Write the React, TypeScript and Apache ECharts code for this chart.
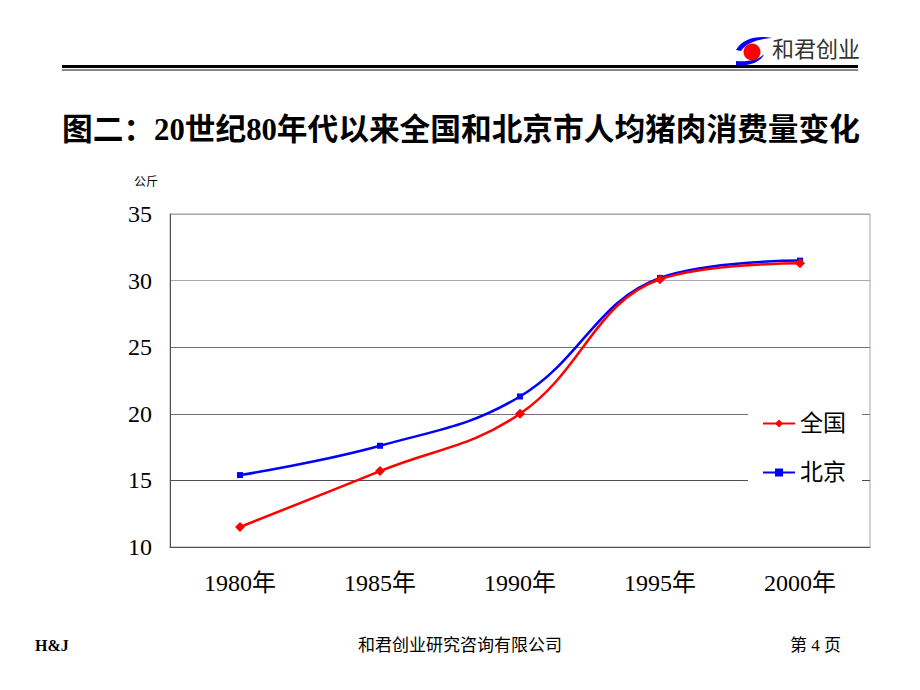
import React, { useEffect, useRef } from 'react';
import * as echarts from 'echarts';

const years = ['1980年', '1985年', '1990年', '1995年', '2000年'];
const nationalValues = [11.5, 15.7, 20.0, 30.1, 31.3];
const beijingValues = [15.4, 17.6, 21.3, 30.2, 31.5];
const yMin = 10;
const yMax = 35;
const yInterval = 5;
const seriesNames = ['全国', '北京'];

const titleText = '图二：20世纪80年代以来全国和北京市人均猪肉消费量变化';
const unitText = '公斤';
const logoText = '和君创业';
const footerLeft = 'H&J';
const footerCenter = '和君创业研究咨询有限公司';
const footerRight = '第 4 页';

const SERIF = "'Liberation Serif', 'Times New Roman', 'Noto Sans CJK SC', serif";
const CJK_BOLD = "'Liberation Serif', 'Noto Sans CJK SC', sans-serif";

let registered = false;
function registerLogo() {
  if (registered) return;
  registered = true;
  const d =
    'M1,23 C7,12 22,8 37,11 C24,12 12,15 6,24 Z ' +
    'M1,34 C12,35 24,33 29,27 C27,34 16,39 1,39 Z';
  echarts.graphic.registerShape('logoBlue', echarts.graphic.extendPath(d, {}) as any);
}

export default function App() {
  const ref = useRef<HTMLDivElement>(null);

  useEffect(() => {
    document.body.style.margin = '0';
    registerLogo();
    const chart = echarts.init(ref.current!, null, { renderer: 'svg' });
    chart.setOption({
      animation: false,
      backgroundColor: '#ffffff',
      grid: {
        left: 170,
        right: 50,
        top: 214,
        bottom: 143,
        show: true,
        borderColor: '#a8a0a8',
        borderWidth: 1,
        backgroundColor: 'transparent',
      },
      legend: {
        data: seriesNames,
        orient: 'vertical',
        left: 748,
        top: 400,
        backgroundColor: '#ffffff',
        padding: [12, 16, 12, 14],
        itemGap: 26,
        itemWidth: 32,
        itemHeight: 10,
        textStyle: { fontSize: 23, color: '#000000', fontFamily: SERIF },
      },
      xAxis: {
        type: 'category',
        data: years,
        boundaryGap: true,
        axisLine: { lineStyle: { color: '#505050', width: 1 } },
        axisTick: { inside: true, length: 8, lineStyle: { color: '#505050' } },
        axisLabel: { fontSize: 24, color: '#000000', margin: 24, fontFamily: SERIF },
        splitLine: { show: false },
      },
      yAxis: {
        type: 'value',
        min: yMin,
        max: yMax,
        interval: yInterval,
        axisLine: { show: true, lineStyle: { color: '#505050', width: 1 } },
        axisTick: { show: false },
        axisLabel: { fontSize: 24, color: '#000000', margin: 18, fontFamily: SERIF },
        splitLine: {
          show: true,
          lineStyle: {
            color: ['#505050', '#584858', '#806880', '#5e7a6e', '#b0a4b0', '#b0a4b0'],
            width: 1,
          },
        },
      },
      series: [
        {
          name: '北京',
          type: 'line',
          data: beijingValues,
          smooth: 0.4,
          symbol: 'rect',
          symbolSize: 6,
          lineStyle: { color: '#0000ff', width: 2.5 },
          itemStyle: { color: '#0000ff' },
          z: 2,
        },
        {
          name: '全国',
          type: 'line',
          data: nationalValues,
          smooth: 0.4,
          symbol: 'diamond',
          symbolSize: 10,
          lineStyle: { color: '#ff0000', width: 2.5 },
          itemStyle: { color: '#ff0000' },
          z: 3,
        },
      ],
      graphic: [
        {
          type: 'logoBlue',
          x: 735,
          y: 27,
          style: { fill: '#0000ff' },
        },
        {
          type: 'circle',
          shape: { cx: 752, cy: 52, r: 8.5 },
          style: { fill: '#ff0000' },
        },
        {
          type: 'text',
          x: 772,
          y: 47,
          style: {
            text: logoText,
            fontSize: 22,
            fontFamily: "'Noto Sans CJK SC', sans-serif",
            fill: '#333333',
            verticalAlign: 'middle',
          },
        },
        {
          type: 'rect',
          shape: { x: 62, y: 65, width: 796, height: 3 },
          style: { fill: '#000000' },
        },
        {
          type: 'rect',
          shape: { x: 62, y: 69, width: 796, height: 2 },
          style: { fill: '#888888' },
        },
        {
          type: 'text',
          x: 62,
          y: 130,
          style: {
            text: titleText,
            fontSize: 30.7,
            fontWeight: 'bold',
            fontFamily: CJK_BOLD,
            fill: '#000000',
            verticalAlign: 'middle',
          },
        },
        {
          type: 'text',
          x: 146,
          y: 182,
          style: {
            text: unitText,
            fontSize: 12,
            fontFamily: SERIF,
            fill: '#000000',
            align: 'center',
            verticalAlign: 'middle',
          },
        },
        {
          type: 'text',
          x: 35,
          y: 645,
          style: {
            text: footerLeft,
            fontSize: 16,
            fontWeight: 'bold',
            fontFamily: SERIF,
            fill: '#000000',
            verticalAlign: 'middle',
          },
        },
        {
          type: 'text',
          x: 460,
          y: 645,
          style: {
            text: footerCenter,
            fontSize: 17,
            fontFamily: SERIF,
            fill: '#000000',
            align: 'center',
            verticalAlign: 'middle',
          },
        },
        {
          type: 'text',
          x: 790,
          y: 645,
          style: {
            text: footerRight,
            fontSize: 17,
            fontFamily: SERIF,
            fill: '#000000',
            verticalAlign: 'middle',
          },
        },
      ],
    });
    return () => chart.dispose();
  }, []);

  return <div ref={ref} style={{ width: 920, height: 690 }} />;
}
